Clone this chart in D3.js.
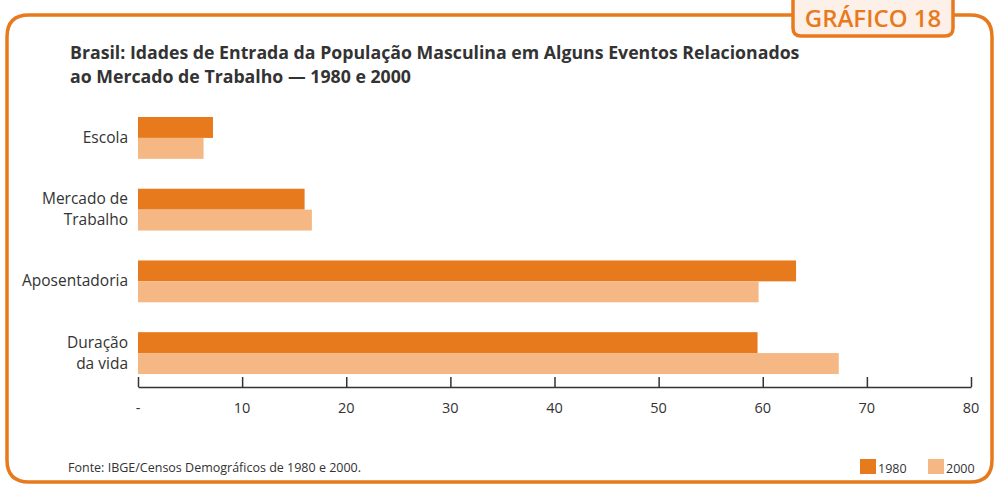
<!DOCTYPE html>
<html>
<head>
<meta charset="utf-8">
<script src="https://cdn.jsdelivr.net/npm/d3@7"></script>
<style>
  body { margin: 0; background: #fff; }
  svg { display: block; font-family: "Open Sans", "Noto Sans", sans-serif; }
</style>
</head>
<body>
<div id="chart"></div>
<script>
// data
let categories = [["Escola"], ["Mercado de", "Trabalho"], ["Aposentadoria"], ["Duração", "da vida"]];
let series = ["1980", "2000"];
let values1980 = [7.2, 16.0, 63.2, 59.5];
let values2000 = [6.3, 16.7, 59.6, 67.3];
let ticks = [0, 10, 20, 30, 40, 50, 60, 70, 80];

let colors = {"1980": "#E87A1E", "2000": "#F5B885"};
let orange = "#E87A1E";

let W = 997, H = 488;
let svg = d3.select("#chart").append("svg")
    .attr("width", W)
    .attr("height", H);

// frame with the tab
let L = 7, T = 15, R = 992, B = 482, r = 22;
let tabL = 793, tabR = 953, tabB = 36, tr = 8;

svg.append("path")
    .attr("d", "M" + tabL + "," + T + " L" + (L + r) + "," + T +
        " Q" + L + "," + T + " " + L + "," + (T + r) +
        " L" + L + "," + (B - r) + " Q" + L + "," + B + " " + (L + r) + "," + B +
        " L" + (R - r) + "," + B + " Q" + R + "," + B + " " + R + "," + (B - r) +
        " L" + R + "," + (T + r) + " Q" + R + "," + T + " " + (R - r) + "," + T +
        " L" + tabR + "," + T)
    .attr("fill", "none")
    .attr("stroke", orange)
    .attr("stroke-width", 3.5);

svg.append("path")
    .attr("d", "M" + tabL + ",-5 L" + tabL + "," + (tabB - tr) +
        " Q" + tabL + "," + tabB + " " + (tabL + tr) + "," + tabB +
        " L" + (tabR - tr) + "," + tabB + " Q" + tabR + "," + tabB + " " + tabR + "," + (tabB - tr) +
        " L" + tabR + ",-5")
    .attr("fill", "#FDF0E8")
    .attr("stroke", orange)
    .attr("stroke-width", 3.5);

svg.append("text")
    .attr("x", (tabL + tabR) / 2)
    .attr("y", 27)
    .attr("text-anchor", "middle")
    .attr("fill", orange)
    .attr("font-weight", 600)
    .attr("font-size", 24)
    .text("GRÁFICO 18");

// title
let titleLines = ["Brasil: Idades de Entrada da População Masculina em Alguns Eventos Relacionados",
    "ao Mercado de Trabalho — 1980 e 2000"];
let title = svg.append("g").attr("fill", "#333").attr("font-weight", "bold").attr("font-size", 17);
titleLines.forEach((t, i) => {
    title.append("text").attr("x", 70).attr("y", 59 + i * 24).text(t);
});
// fit the first line to its width in the picture
let w0 = title.select("text").node().getComputedTextLength();
title.attr("font-size", 17 * 730 / w0);

// scales
let x = d3.scaleLinear().domain([0, 80]).range([138, 971]);
let y = d3.scaleBand().domain(d3.range(categories.length)).range([117, 374]).paddingInner(0.4167).paddingOuter(0);
let ySub = d3.scaleBand().domain(series).range([0, y.bandwidth()]);

let data = series.map((s) => {
    let vals = s === "1980" ? values1980 : values2000;
    return vals.map((v, i) => ({ s: s, i: i, v: v }));
}).flat();

svg.append("g").selectAll("rect")
    .data(data)
    .enter().append("rect")
    .attr("x", x(0))
    .attr("y", (d) => y(d.i) + ySub(d.s))
    .attr("width", (d) => x(d.v) - x(0))
    .attr("height", ySub.bandwidth())
    .attr("fill", (d) => colors[d.s]);

// category labels
let labels = svg.append("g").attr("fill", "#333").attr("font-size", 15.5).attr("text-anchor", "end");
categories.forEach((lines, i) => {
    let cy = y(i) + y.bandwidth() / 2;
    lines.forEach((t, j) => {
        labels.append("text")
            .attr("x", 128)
            .attr("y", cy + 5 + (j - (lines.length - 1) / 2) * 21)
            .text(t);
    });
});

// x axis
let axisY = 387;
let axis = svg.append("g")
    .attr("transform", "translate(0," + axisY + ")")
    .call(d3.axisTop(x).tickValues(ticks).tickSize(10).tickSizeOuter(0).tickFormat(() => ""));
axis.select(".domain").attr("stroke", "#333").attr("stroke-width", 1.5);
axis.selectAll(".tick line").attr("stroke", "#333").attr("stroke-width", 1.5);

svg.append("g").selectAll("text")
    .data(ticks)
    .enter().append("text")
    .attr("x", (d) => x(d))
    .attr("y", 413)
    .attr("text-anchor", "middle")
    .attr("fill", "#333")
    .attr("font-size", 14.5)
    .text((d) => d === 0 ? "-" : d);

// source
svg.append("text")
    .attr("x", 68)
    .attr("y", 472)
    .attr("fill", "#333")
    .attr("font-size", 12.5)
    .text("Fonte: IBGE/Censos Demográficos de 1980 e 2000.");

// legend
let legendX = [860, 928];
series.forEach((s, i) => {
    svg.append("rect")
        .attr("x", legendX[i])
        .attr("y", 459)
        .attr("width", 16)
        .attr("height", 15)
        .attr("fill", colors[s]);
    svg.append("text")
        .attr("x", legendX[i] + 18)
        .attr("y", 473)
        .attr("fill", "#333")
        .attr("font-size", 12.5)
        .text(s);
});
</script>
</body>
</html>
